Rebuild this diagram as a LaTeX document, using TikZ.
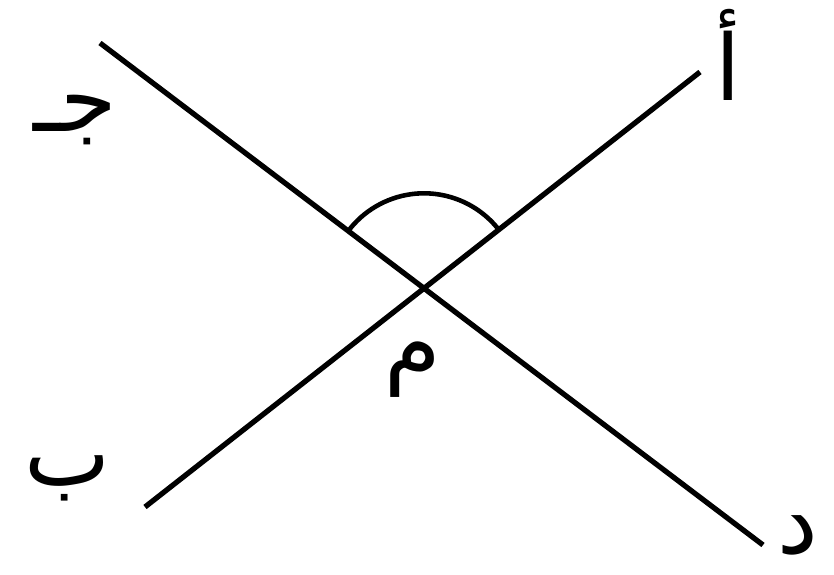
\documentclass[tikz,border=0pt]{standalone}
\usepackage{fontspec}
\newfontfamily\arabicfont[Script=Arabic]{DejaVu Sans}
\TeXXeTstate=1
\usetikzlibrary{positioning,calc}

\begin{document}
\begin{tikzpicture}[line/.style={black, line width=3pt}, letter/.style={inner sep=0pt, font=\arabicfont\fontsize{52}{52}\selectfont}]
\useasboundingbox (0,0) rectangle (16.68,11.5);
% Ends of the two lines
\coordinate (cend) at (2.00,10.64);
\coordinate (dend) at (15.26,0.60);
\coordinate (bend) at (2.90,1.36);
\coordinate (aend) at (14.00,10.06);
\coordinate (m) at (intersection of cend--dend and bend--aend);

% Lines
\draw[line] (cend) -- (dend);
\draw[line] (bend) -- (aend);

% Angle between m-a and m-c
\draw[line, line width=2.6pt] ($(m)+(38:1.9)$) arc[start angle=38, end angle=143, radius=1.9];

% Letters
\node[letter] (alef) at (14.56,10.40) {\beginR أ\endR};
\node[letter] (jim) at (1.50,9.10) {\beginR جـ\endR};
\node[letter] (ba) at (1.36,1.94) {\beginR ب\endR};
\node[letter] (dal) at (15.95,0.80) {\beginR د\endR};
\node[letter] (mim) at (8.26,4.10) {\beginR م\endR};
\end{tikzpicture}
\end{document}
